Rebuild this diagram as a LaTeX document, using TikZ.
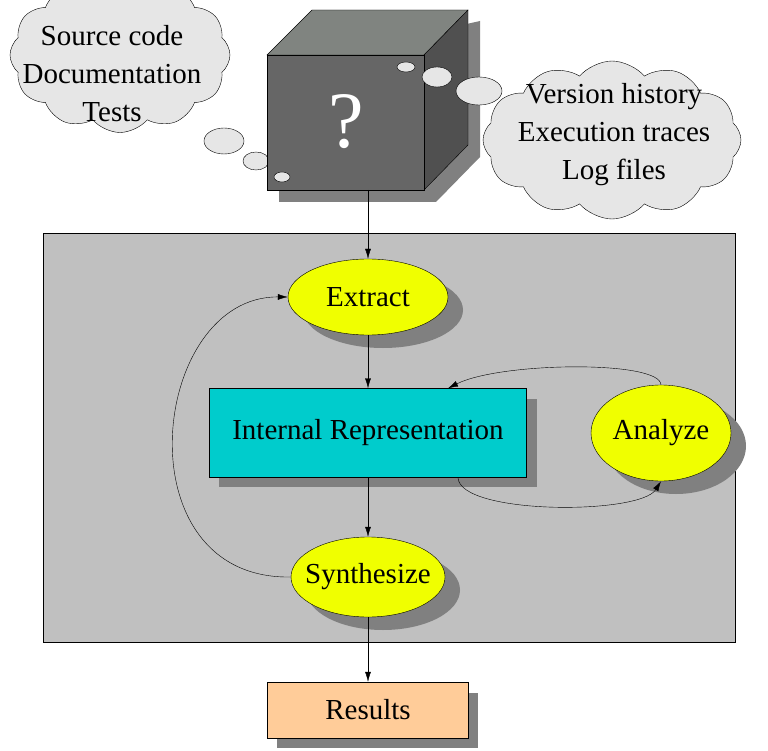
\documentclass[tikz,border=0pt]{standalone}
\usepackage{fontspec}
\setmainfont{Liberation Serif}
\usetikzlibrary{shapes.symbols,shapes.geometric,positioning,calc,arrows.meta}
\definecolor{boxgray}{RGB}{192,192,192}
\definecolor{cubefront}{RGB}{102,102,102}
\definecolor{cubetop}{RGB}{128,132,128}
\definecolor{cubeside}{RGB}{80,80,80}
\definecolor{thought}{RGB}{230,230,230}
\definecolor{stepyellow}{RGB}{240,255,0}
\definecolor{repcyan}{RGB}{0,204,204}
\definecolor{resorange}{RGB}{255,204,153}

\begin{document}
\begin{tikzpicture}[x=1pt,y=-1pt,
    font=\fontsize{29}{38}\selectfont,
    phase/.style={ellipse, draw, fill=stepyellow, inner sep=0pt},
    shade/.style={fill=black!50, draw=none},
    bubble/.style={ellipse, draw, fill=thought, inner sep=0pt},
    thinking/.style={cloud, cloud puffs=12, cloud puff arc=100, cloud ignores aspect, draw, fill=thought, inner sep=0pt},
    arrow/.style={-{Latex[length=10pt,width=6pt]}}
]
\useasboundingbox (0,0) rectangle (768,751);
\begin{scope}
\clip (0,0) rectangle (768,751);
% thought clouds
\node[thinking, minimum width=220, minimum height=155] (sources) at (120,55) {};
\node[align=center] (sourcestext) at (112,74) {Source code\\Documentation\\Tests};
\node[thinking, minimum width=258, minimum height=158] (history) at (612,140) {};
\node[align=center] (historytext) at (614,135) {Version history\\Execution traces\\Log files};
\end{scope}
\node[bubble, minimum width=40, minimum height=26] (lb1) at (224,141) {};
\node[bubble, minimum width=26, minimum height=18] (lb2) at (256,161) {};
% cube
\fill[black!50] (279,66) -- (480,21) -- (480,157) -- (436,202) -- (279,202) -- cycle;
\draw[fill=cubetop] (267,55) -- (312,10) -- (468,10) -- (424,55) -- cycle;
\draw[fill=cubeside] (424,55) -- (468,10) -- (468,145) -- (424,190) -- cycle;
\draw[fill=cubefront] (267,55) rectangle (424,190);
\node[text=white, font=\fontsize{80}{80}\selectfont] (query) at (346,122) {?};
\coordinate (cube) at (368,190);
\node[bubble, minimum width=16, minimum height=10] (lb3) at (282,177) {};
\node[bubble, minimum width=18, minimum height=10] (rb1) at (406,67) {};
\node[bubble, minimum width=30, minimum height=20] (rb2) at (437,77) {};
\node[bubble, minimum width=46, minimum height=28] (rb3) at (479,91) {};
% main area
\draw[fill=boxgray] (43,233) rectangle (735,642);
\fill[shade] (219,399) rectangle (537,487);
\fill[shade] (383,310) ellipse (80 and 38);
\fill[shade] (676,446) ellipse (70 and 48);
\fill[shade] (383,590) ellipse (77 and 40);
\fill[shade] (277,693) rectangle (478,748);
\node[phase, minimum width=160, minimum height=76] (extract) at (368,297) {};
\node (extracttext) at (368,297) {Extract};
\node[draw, fill=repcyan, minimum width=317, minimum height=89] (rep) at (368,433) {Internal Representation};
\node[phase, minimum width=140, minimum height=96] (analyze) at (661,433) {};
\node (analyzetext) at (661,433) {Analyze};
\node[phase, minimum width=154, minimum height=80] (synth) at (368,577) {};
\node (synthtext) at (368,577) {Synthesize};
\node[draw, fill=resorange, minimum width=201, minimum height=56] (results) at (368,710) {Results};
% connectors
\draw[arrow] (cube) -- (extract);
\draw[arrow] (extract) -- (rep);
\draw[arrow] (rep) -- (synth);
\draw[arrow] (synth) -- (results);
\draw[arrow] ([xshift=90pt]rep.south) .. controls (460,515) and (640,515) .. (analyze.south);
\draw[arrow] (analyze.north) .. controls (660,360) and (500,362) .. ([xshift=80pt]rep.north);
\draw[arrow] (synth.west) .. controls (120,580) and (150,296) .. (extract.west);
\end{tikzpicture}
\end{document}
